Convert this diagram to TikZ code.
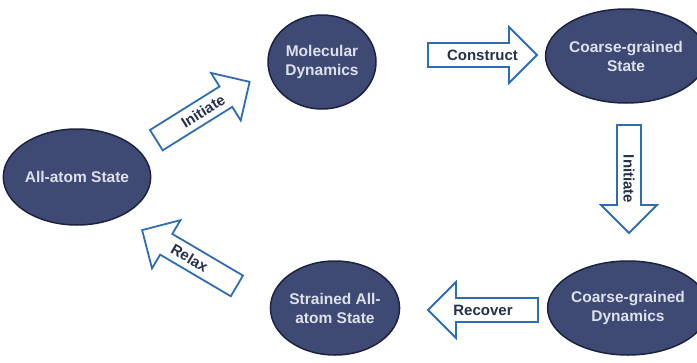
\documentclass[tikz,border=0pt]{standalone}
\usepackage{fontspec}
\setmainfont{Liberation Sans}
\usetikzlibrary{shapes.geometric}
\definecolor{ellfill}{HTML}{3F4A74}
\definecolor{elldraw}{HTML}{1B2340}
\definecolor{elltext}{HTML}{DDE1EA}
\definecolor{arrdraw}{HTML}{2E6DB4}
\definecolor{arrtext}{HTML}{26304C}
\newcommand{\bh}{12}
\newcommand{\hh}{28}
\newcommand{\hl}{28}
\newcommand{\blkarrow}[6]{%
  \begin{scope}[shift={#2}, rotate=#3]
    \draw[arrowline] ({-#4/2},-\bh) -- ({#4/2-\hl},-\bh) -- ({#4/2-\hl},-\hh) -- ({#4/2},0)
      -- ({#4/2-\hl},\hh) -- ({#4/2-\hl},\bh) -- ({-#4/2},\bh) -- cycle;
    \node[arrlabel, rotate=#6] (#1) at (0,0) {#5};
  \end{scope}}
\tikzset{
  state/.style={ellipse, draw=elldraw, line width=1.5pt, fill=ellfill, inner sep=0pt,
    text=elltext, align=center, font=\fontsize{15.5}{19}\selectfont\bfseries},
  arrowline/.style={draw=arrdraw, line width=1.8pt, fill=white, line join=miter},
  arrlabel/.style={text=arrtext, inner sep=0pt, font=\fontsize{15}{17}\selectfont\bfseries}
}
\begin{document}
\begin{tikzpicture}[x=1pt,y=-1pt]
\useasboundingbox (0,0) rectangle (697,362);
\node[state, minimum width=138pt, minimum height=96pt] (aa) at (77,177) {All-atom State};
\node[state, minimum width=108pt, minimum height=94pt] (md) at (322,62) {Molecular\\Dynamics};
\node[state, minimum width=128pt, minimum height=94pt] (cgs) at (626,56) {Coarse-grained\\State};
\node[state, minimum width=131pt, minimum height=94pt] (cgd) at (628,308) {Coarse-grained\\Dynamics};
\node[state, minimum width=124pt, minimum height=94pt] (saa) at (335,308) {Strained All-\\atom State};
\blkarrow{initA}{(203,111)}{32}{110}{Initiate}{32}
\blkarrow{construct}{(482.5,55)}{0}{109}{Construct}{0}
\blkarrow{initB}{(629,179)}{-90}{108}{Initiate}{-90}
\blkarrow{recover}{(483,310)}{180}{110}{Recover}{0}
\blkarrow{relax}{(189.5,258)}{149.5}{110}{Relax}{-30.5}
\end{tikzpicture}
\end{document}
